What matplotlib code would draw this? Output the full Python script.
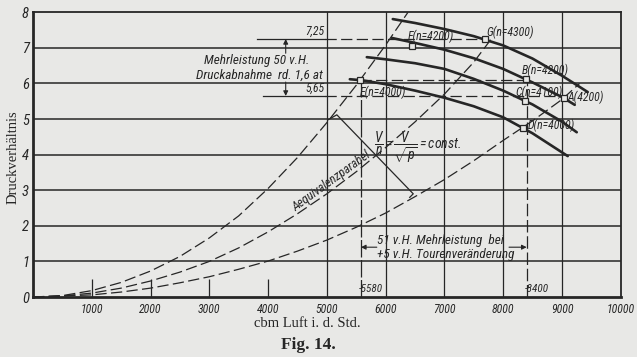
import matplotlib
matplotlib.use("Agg")
import matplotlib.pyplot as plt
from matplotlib import font_manager as fm

# ---------------- data ----------------
# dashed equivalence parabolas (cbm/h, Druckverhältnis)
par1_x = [0, 500, 1000, 1500, 2000, 2500, 3000, 3500, 4000, 4500, 5000, 5500, 6000, 6380]
par1_y = [0, 0.04, 0.18, 0.41, 0.73, 1.14, 1.66, 2.28, 3.05, 3.92, 4.9, 5.95, 7.08, 8.0]
par2_x = [0, 500, 1000, 1500, 2000, 2500, 3000, 3500, 4000, 4500, 5000, 5500, 6000, 6500, 7000, 7500, 7820]
par2_y = [0, 0.03, 0.11, 0.25, 0.45, 0.7, 1.0, 1.38, 1.83, 2.34, 2.9, 3.52, 4.2, 4.92, 5.7, 6.6, 7.3]
par3_x = [0, 1000, 1500, 2000, 2500, 3000, 3500, 4000, 4500, 5000, 5500, 6000, 6500, 7000, 7500, 8000, 8500, 9000, 9300]
par3_y = [0, 0.06, 0.14, 0.25, 0.4, 0.57, 0.78, 1.01, 1.29, 1.6, 1.96, 2.36, 2.82, 3.3, 3.83, 4.4, 4.95, 5.55, 6.0]

# solid characteristic curves (n = const)
n4300_x = [6122, 6500, 7000, 7500, 8000, 8500, 9000, 9439]
n4300_y = [7.81, 7.70, 7.53, 7.33, 7.07, 6.70, 6.22, 5.76]
n4200_x = [6105, 6500, 7000, 7500, 8000, 8500, 9000, 9218]
n4200_y = [7.28, 7.14, 6.95, 6.71, 6.41, 6.03, 5.62, 5.40]
n4100_x = [5680, 6000, 6500, 7000, 7500, 8000, 8500, 9000, 9252]
n4100_y = [6.74, 6.68, 6.57, 6.41, 6.13, 5.80, 5.41, 4.93, 4.63]
n4000_x = [5391, 5600, 6000, 6500, 7000, 7500, 8000, 8500, 9099]
n4000_y = [6.12, 6.09, 5.98, 5.80, 5.60, 5.36, 5.05, 4.60, 3.96]

# operating points
pt_labels = ["F(n=4200)", "G(n=4300)", "B(n=4200)", "C(n=4100)", "A(4200)", "D(n=4000)", "E(n=4000)"]
pt_x = [6446, 7687, 8384, 8367, 9031, 8333, 5561]
pt_y = [7.05, 7.25, 6.12, 5.51, 5.60, 4.75, 6.10]
lab_x = [6380, 7720, 8316, 8214, 9099, 8418, 5561]
lab_y = [7.33, 7.44, 6.38, 5.76, 5.62, 4.83, 5.76]

x_ticks = [1000, 2000, 3000, 4000, 5000, 6000, 7000, 8000, 9000, 10000]
x_ticklabels = ["1000", "2000", "3000", "4000", "5000", "6000", "7000", "8000", "9000", "10000"]
y_ticks = [0, 1, 2, 3, 4, 5, 6, 7, 8]
y_ticklabels = ["0", "1", "2", "3", "4", "5", "6", "7", "8"]

p_high, p_low = 7.25, 5.65
p_eb = 6.1
v_lo, v_hi = 5580, 8400

# ---------------- styling ----------------
avail = {f.name for f in fm.fontManager.ttflist}
def pick(*names):
    for n in names:
        if n in avail:
            return n
    return "DejaVu Sans"

HAND = pick("Liberation Sans Narrow", "DejaVu Sans Condensed", "Roboto Condensed", "Liberation Sans")
SERIF = pick("Liberation Serif", "DejaVu Serif")
PAPER = "#e8e8e6"
INK = "#262626"

plt.rcParams["mathtext.fontset"] = "custom"
plt.rcParams["mathtext.it"] = HAND + ":italic"
plt.rcParams["mathtext.rm"] = HAND + ":italic"

fig = plt.figure(figsize=(6.37, 3.57), dpi=100, facecolor=PAPER)
ax = fig.add_axes([0.0518, 0.168, 0.9226, 0.7975])
ax.set_facecolor(PAPER)
ax.set_xlim(0, 10000)
ax.set_ylim(0, 8)

for s in ["left", "bottom"]:
    ax.spines[s].set_linewidth(2.0)
for s in ["top", "right"]:
    ax.spines[s].set_linewidth(1.3)
for s in ax.spines.values():
    s.set_color(INK)

ax.tick_params(length=0, pad=4)
ax.set_xticks(x_ticks)
ax.set_xticklabels(x_ticklabels, fontfamily=HAND, fontstyle="italic", fontsize=8.5, color=INK)
ax.set_yticks(y_ticks)
ax.set_yticklabels(y_ticklabels, fontfamily=HAND, fontstyle="italic", fontsize=10.5, color=INK)
ax.tick_params(axis="y", pad=3)

# grid
for yv in y_ticks[1:-1]:
    ax.axhline(yv, color=INK, lw=1.1, zorder=1)
for xv in x_ticks[4:-1]:
    ax.axvline(xv, color=INK, lw=0.9, zorder=1)
ax.vlines(x_ticks[:4], 0, 0.52, color=INK, lw=0.9, zorder=1)

# parabolas
for px, py in [(par1_x, par1_y), (par2_x, par2_y), (par3_x, par3_y)]:
    ln, = ax.plot(px, py, color=INK, lw=0.9, zorder=3)
    ln.set_dashes((9, 3.5))

# characteristic curves
for cx, cy in [(n4300_x, n4300_y), (n4200_x, n4200_y), (n4100_x, n4100_y), (n4000_x, n4000_y)]:
    ax.plot(cx, cy, color=INK, lw=1.9, zorder=4, solid_capstyle="round", solid_joinstyle="round")

# horizontal helper lines
ax.plot([3810, 4966], [p_high, p_high], color=INK, lw=0.9, zorder=3)
ax.plot([3912, 4966], [p_low, p_low], color=INK, lw=0.9, zorder=3)
l1, = ax.plot([4966, pt_x[1]], [p_high, p_high], color=INK, lw=0.9, zorder=3)
l2, = ax.plot([4966, pt_x[4]], [p_low, p_low], color=INK, lw=0.9, zorder=3)
l3, = ax.plot([pt_x[6], pt_x[2]], [p_eb, p_eb], color=INK, lw=0.9, zorder=3)
for l in (l1, l2, l3):
    l.set_dashes((9, 3.5))

# vertical helper lines at 5580 and 8400
v1, = ax.plot([v_lo, v_lo], [0, p_eb], color=INK, lw=0.9, zorder=3)
v2, = ax.plot([v_hi, v_hi], [0, p_eb], color=INK, lw=0.9, zorder=3)
v1.set_dashes((14, 2))
v2.set_dashes((10, 3))

# markers
ax.plot(pt_x, pt_y, ls="none", marker="s", ms=3.8, mfc=PAPER, mec=INK, mew=0.9, zorder=6)
for lb, lx, ly in zip(pt_labels, lab_x, lab_y):
    ax.text(lx, ly, lb, fontfamily=HAND, fontstyle="italic", fontsize=8.5, color=INK,
            ha="left", va="center", zorder=7)

# pressure labels
hand = dict(fontfamily=HAND, fontstyle="italic", color=INK)
ax.text(4630, p_high + 0.03, "7,25", fontsize=8.5, ha="left", va="bottom", **hand)
ax.text(4630, p_low + 0.03, "5,65", fontsize=8.5, ha="left", va="bottom", **hand)

# vertical arrows
arr = dict(arrowstyle="-|>", color=INK, lw=0.8, mutation_scale=7, shrinkA=0, shrinkB=0)
ax.annotate("", xy=(4300, p_high), xytext=(4300, 6.85), arrowprops=arr)
ax.annotate("", xy=(4300, p_low), xytext=(4300, 6.04), arrowprops=arr)
ax.text(3810, 6.66, "Mehrleistung 50 v.H.", fontsize=9.5, ha="center", va="center", **hand)
ax.text(3845, 6.24, "Druckabnahme  rd. 1,6 at", fontsize=9.5, ha="center", va="center", **hand)

# horizontal arrows between 5580 and 8400
ax.annotate("", xy=(v_lo, 1.4), xytext=(5850, 1.4), arrowprops=arr)
ax.annotate("", xy=(v_hi, 1.4), xytext=(8100, 1.4), arrowprops=arr)
ax.text(5850, 1.58, "51 v.H. Mehrleistung  bei", fontsize=9.5, ha="left", va="center", **hand)
ax.text(5850, 1.19, "+5 v.H. Tourenveränderung", fontsize=9.5, ha="left", va="center", **hand)
ax.text(v_lo - 40, 0.22, "-5580", fontsize=8, ha="left", va="center", **hand)
ax.text(v_hi - 40, 0.22, "-8400", fontsize=8, ha="left", va="center", **hand)

# bracket connecting the parabolas and the formula
ax.plot([5020, 5170, 6470, 6410], [4.98, 5.12, 2.9, 2.8], color=INK, lw=0.9, zorder=3)
ax.text(5136, 3.12, "Aequivalenzparabel", fontsize=9, rotation=36, ha="center", va="bottom",
        rotation_mode="anchor", zorder=5, **hand)
ax.text(5800, 4.2, r"$\dfrac{V}{n}=\dfrac{V}{\sqrt{p}}=\mathrm{const.}$", fontsize=10,
        ha="left", va="center", color=INK, zorder=5)

# axis titles
fig.text(0.021, 0.56, "Druckverhältnis", rotation=90, fontfamily=SERIF, fontsize=10.5,
         color=INK, ha="center", va="center")
fig.text(0.482, 0.095, "cbm Luft i. d. Std.", fontfamily=SERIF, fontsize=10.5,
         color=INK, ha="center", va="center")
fig.text(0.484, 0.035, "Fig. 14.", fontfamily=SERIF, fontsize=12.5, fontweight="bold",
         color=INK, ha="center", va="center")

fig.savefig("out.png", dpi=100, facecolor=PAPER)
